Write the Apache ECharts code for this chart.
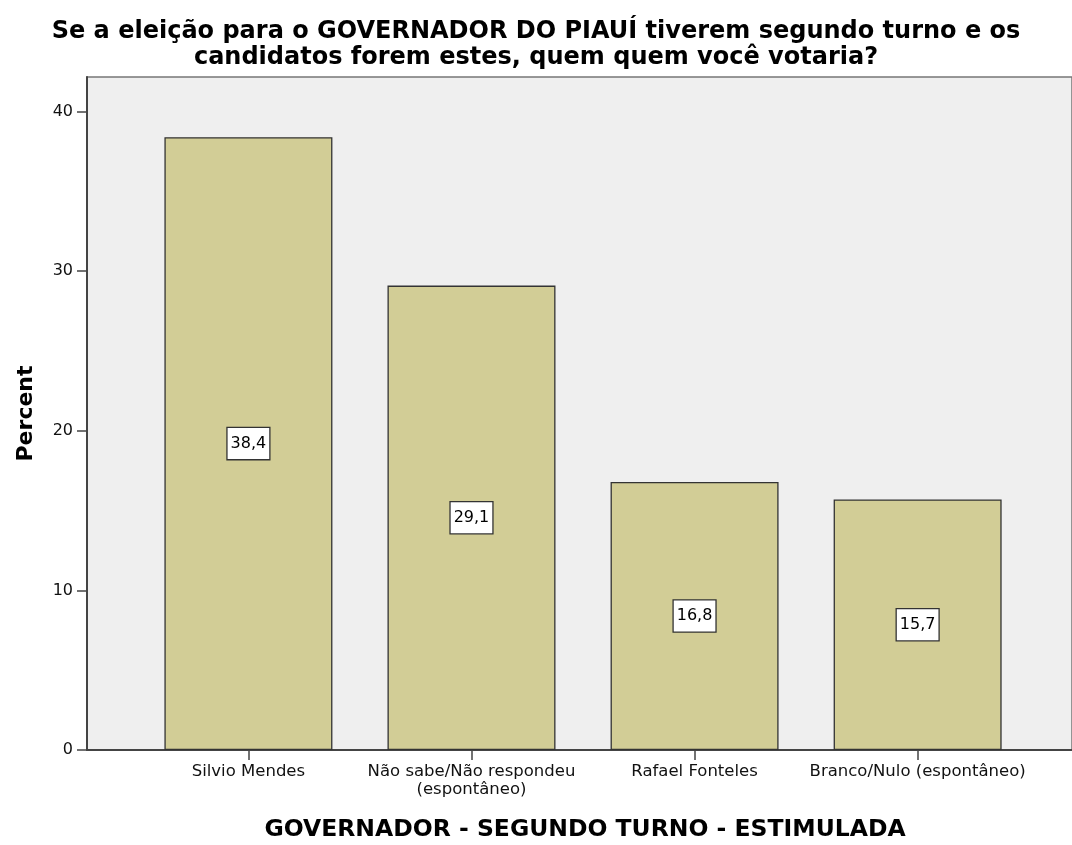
<!DOCTYPE html>
<html><head><meta charset="utf-8">
<script src="https://cdn.jsdelivr.net/npm/echarts@6/dist/echarts.min.js"></script>
<style>html,body{margin:0;padding:0;background:#fff}#c{width:1072px;height:845px}</style>
</head><body><div id="c"></div>
<script>
const categories = ["Silvio Mendes", "Não sabe/Não respondeu\n(espontâneo)", "Rafael Fonteles", "Branco/Nulo (espontâneo)"];
const percents = [38.4, 29.1, 16.8, 15.7];
const yTicks = [0, 10, 20, 30, 40];
const titleText = "Se a eleição para o GOVERNADOR DO PIAUÍ tiverem segundo turno e os\ncandidatos forem estes, quem quem você votaria?";
const xName = "GOVERNADOR - SEGUNDO TURNO - ESTIMULADA";
const yName = "Percent";

const chart = echarts.init(document.getElementById('c'), null, {renderer: 'canvas'});
const font = "'DejaVu Sans', sans-serif";
chart.setOption({
  animation: false,
  textStyle: {fontFamily: font},
  title: {
    text: titleText, left: 'center', top: 14,
    textStyle: {fontFamily: font, fontSize: 24, fontWeight: 'bold', color: '#000', lineHeight: 26}
  },
  graphic: [{
    type: 'text', x: 585, y: 818,
    style: {text: xName, font: "bold 23.5px 'DejaVu Sans', sans-serif", fill: '#000', textAlign: 'center', textVerticalAlign: 'top'}
  }],
  grid: {left: 87, right: -1, top: 77, bottom: 95, show: true, backgroundColor: '#EFEFEF', borderColor: '#777', borderWidth: 1.5},
  xAxis: {
    type: 'value', min: -0.7236, max: 3.692,
    splitLine: {show: false},
    axisLine: {show: true, onZero: false, lineStyle: {color: '#444', width: 2}},
    axisTick: {show: true, customValues: [0,1,2,3], length: 10, lineStyle: {color: '#444', width: 1.5}},
    axisLabel: {customValues: [0,1,2,3], formatter: v => categories[Math.round(v)], fontSize: 16.5, color: '#111', margin: 13, lineHeight: 18, fontFamily: font}
  },
  yAxis: {
    type: 'value', min: 0, max: 42.17,
    name: yName, nameLocation: 'middle', nameGap: 50, nameRotate: 90,
    nameTextStyle: {fontFamily: font, fontSize: 22, fontWeight: 'bold', color: '#000'},
    splitLine: {show: false},
    axisLine: {show: true, onZero: false, lineStyle: {color: '#444', width: 2}},
    axisTick: {show: true, customValues: yTicks, length: 10, lineStyle: {color: '#444', width: 1.5}},
    axisLabel: {customValues: yTicks, fontSize: 16, color: '#111', margin: 14, fontFamily: font}
  },
  series: [{
    type: 'bar', barWidth: 168,
    data: percents.map((v, i) => [i, v]),
    itemStyle: {color: '#D2CD96', borderColor: '#333', borderWidth: 1.3},
    label: {
      show: true, position: 'inside', formatter: p => String(p.value[1]).replace('.', ','),
      backgroundColor: '#fff', borderColor: '#333', borderWidth: 1.3, padding: [6, 3, 5, 3],
      fontSize: 16, lineHeight: 20, color: '#000', fontFamily: font
    }
  }]
});
</script></body></html>
